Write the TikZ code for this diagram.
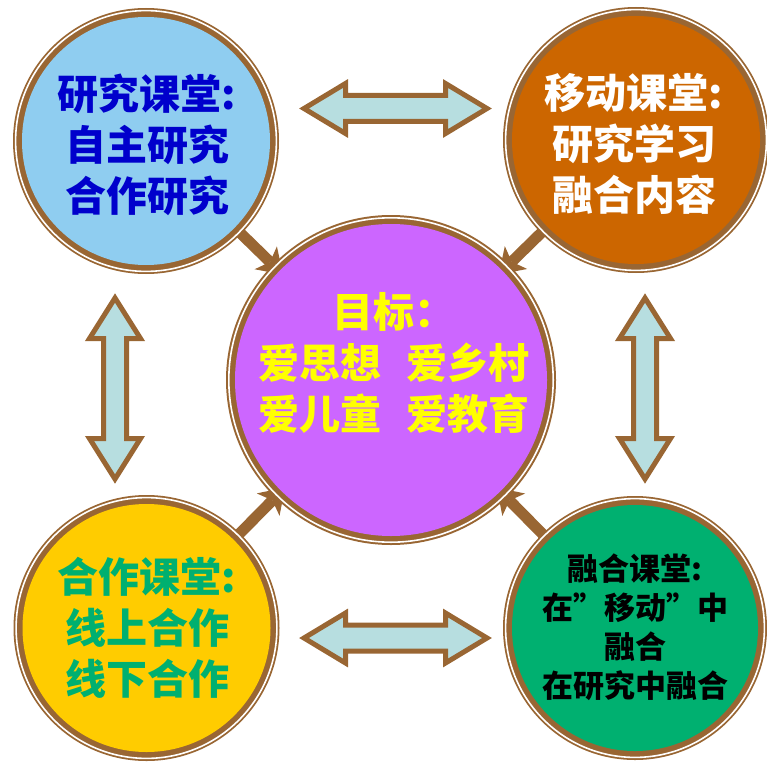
\documentclass[tikz,border=0pt]{standalone}
\usepackage{fontspec}
\newfontfamily\cjkf{Noto Sans CJK SC}
\usetikzlibrary{arrows.meta,calc}
\pgfdeclarelayer{back}
\pgfsetlayers{back,main}
\definecolor{brn}{HTML}{996633}
\definecolor{arrfill}{HTML}{B7DEE0}
\definecolor{tlfill}{HTML}{8FCDF0}
\definecolor{tltext}{HTML}{0000CC}
\definecolor{trfill}{HTML}{CC6600}
\definecolor{blfill}{HTML}{FFCC00}
\definecolor{grn}{HTML}{00B070}
\definecolor{ccfill}{HTML}{CC66FF}
\definecolor{cctext}{HTML}{FFFF00}
\tikzset{
  ringdisk/.style={circle, fill=brn, inner sep=0pt, outer sep=0pt},
  whitering/.style={draw=white, line width=1.6pt},
  bigtext/.style={font=\cjkf\bfseries\fontsize{41}{51}\selectfont, align=center, inner sep=0pt},
  smalltext/.style={font=\cjkf\bfseries\fontsize{31}{39}\selectfont, align=center, inner sep=0pt},
  blk/.style={draw=brn, fill=arrfill, line width=5pt, line join=miter, miter limit=10},
  diag/.style={draw=brn, line width=11pt, -{Stealth[length=24pt, width=32pt, inset=6pt, line width=0pt]}},
  pics/dblarr/.style n args={4}{code={
    \path[blk] (-#1,0) -- (-#1+#2,-#3) -- (-#1+#2,-#4) -- (#1-#2,-#4) -- (#1-#2,-#3) -- (#1,0)
      -- (#1-#2,#3) -- (#1-#2,#4) -- (-#1+#2,#4) -- (-#1+#2,#3) -- cycle;
  }}
}
\begin{document}
\begin{tikzpicture}[x=1pt, y=-1pt]
\useasboundingbox (0,0) rectangle (767,762);

% circles (outer brown disks)
\node[ringdisk, minimum size=266pt] (tl) at (146,141) {};
\node[ringdisk, minimum size=266pt] (tr) at (636,140) {};
\node[ringdisk, minimum size=266pt] (bl) at (146.5,628) {};
\node[ringdisk, minimum size=264pt] (br) at (635,628) {};
\node[ringdisk, minimum size=330pt] (cc) at (391,380) {};

% white rings and coloured faces
\draw[whitering] (tl.center) circle (130.4pt);
\fill[tlfill] (tl.center) circle (124pt);
\draw[whitering] (tr.center) circle (130.4pt);
\fill[trfill] (tr.center) circle (124pt);
\draw[whitering] (bl.center) circle (130.4pt);
\fill[blfill] (bl.center) circle (124pt);
\draw[whitering] (br.center) circle (129.4pt);
\fill[grn] (br.center) circle (123pt);
\draw[whitering] (cc.center) circle (162.2pt);
\fill[ccfill] (cc.center) circle (156pt);

% texts
\node[bigtext, text=tltext] (tlt) at (147,145) {研究课堂:\\自主研究\\合作研究};
\node[bigtext, text=white] (trt) at (634,144) {移动课堂:\\研究学习\\融合内容};
\node[bigtext, text=grn] (blt) at (147,628) {合作课堂:\\线上合作\\线下合作};
\node[smalltext, text=black] (brt) at (635,627) {融合课堂:\\在”移动”中\\融合\\在研究中融合};
\node[bigtext, text=cctext] (cct) at (394,363) {目标：\\爱思想\hspace{26pt}爱乡村\\爱儿童\hspace{26pt}爱教育};

% diagonal arrows towards the centre (behind circles)
\begin{pgfonlayer}{back}
\draw[diag] (tl.center) -- ($(cc.center)!151pt!(tl.center)$);
\draw[diag] (tr.center) -- ($(cc.center)!151pt!(tr.center)$);
\draw[diag] (bl.center) -- ($(cc.center)!151pt!(bl.center)$);
\draw[diag] (br.center) -- ($(cc.center)!151pt!(br.center)$);
\end{pgfonlayer}

% double block arrows
\pic (atop) at (395.5,108.5) {dblarr={91.5}{41.5}{25}{13}};
\pic (abot) at (395.5,638) {dblarr={91.5}{41.5}{25}{13}};
\pic[rotate=90] (aleft) at (115,388.5) {dblarr={90.5}{40.5}{25.5}{11.5}};
\pic[rotate=90] (aright) at (645,388.5) {dblarr={90.5}{40.5}{25.5}{11.5}};
\end{tikzpicture}
\end{document}
